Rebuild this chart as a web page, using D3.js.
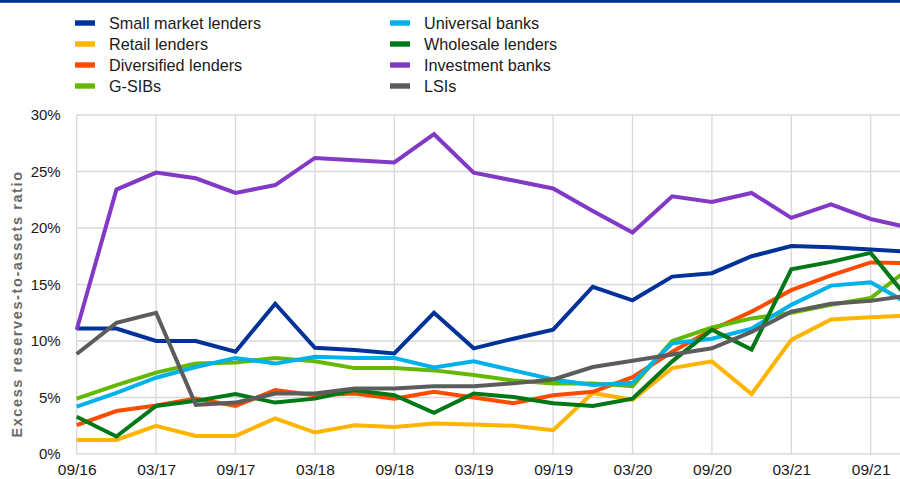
<!DOCTYPE html>
<html>
<head>
<meta charset="utf-8">
<script src="https://cdn.jsdelivr.net/npm/d3@7"></script>
<style>
  html, body { margin: 0; padding: 0; background: #fff; }
  svg { display: block; font-family: "Liberation Sans", Arial, sans-serif; }
</style>
</head>
<body>
<svg id="chart" width="900" height="479"></svg>
<script>
// ---- data ----
const quarters = ["09/16","12/16","03/17","06/17","09/17","12/17","03/18","06/18","09/18","12/18","03/19","06/19","09/19","12/19","03/20","06/20","09/20","12/20","03/21","06/21","09/21","12/21"];
const tickLabels = ["09/16","03/17","09/17","03/18","09/18","03/19","09/19","03/20","09/20","03/21","09/21"];
const yTicks = [0, 5, 10, 15, 20, 25, 30];

const smallMarketLenders = [11.1, 11.1, 10.0, 10.0, 9.05, 13.3, 9.4, 9.2, 8.9, 12.5, 9.35, 10.2, 11.0, 14.8, 13.6, 15.7, 16.0, 17.5, 18.4, 18.3, 18.1, 17.9];
const retailLenders      = [1.24, 1.24, 2.5, 1.6, 1.6, 3.15, 1.9, 2.55, 2.4, 2.7, 2.6, 2.5, 2.1, 5.4, 4.8, 7.6, 8.2, 5.3, 10.1, 11.9, 12.1, 12.25];
const diversifiedLenders = [2.55, 3.8, 4.3, 4.9, 4.25, 5.65, 5.2, 5.35, 4.9, 5.5, 5.0, 4.5, 5.2, 5.5, 6.8, 9.05, 11.0, 12.6, 14.5, 15.8, 16.95, 16.9];
const gSIBs              = [4.9, 6.1, 7.2, 8.0, 8.1, 8.5, 8.2, 7.6, 7.6, 7.4, 7.0, 6.5, 6.25, 6.25, 6.0, 10.0, 11.2, 12.0, 12.5, 13.2, 13.8, 16.5];
const universalBanks     = [4.2, 5.4, 6.75, 7.7, 8.5, 8.0, 8.6, 8.5, 8.5, 7.65, 8.2, 7.4, 6.6, 6.1, 6.3, 9.8, 10.2, 11.1, 13.2, 14.9, 15.2, 13.2];
const wholesaleLenders   = [3.3, 1.55, 4.25, 4.7, 5.3, 4.55, 4.9, 5.65, 5.2, 3.65, 5.35, 5.05, 4.5, 4.25, 4.9, 8.2, 11.0, 9.25, 16.35, 17.0, 17.8, 13.5];
const investmentBanks    = [11.0, 23.4, 24.9, 24.4, 23.1, 23.8, 26.2, 26.0, 25.8, 28.3, 24.9, 24.2, 23.5, 21.5, 19.6, 22.8, 22.3, 23.1, 20.9, 22.1, 20.8, 20.0];
const lsis               = [8.85, 11.6, 12.5, 4.35, 4.55, 5.35, 5.35, 5.8, 5.8, 6.0, 6.0, 6.25, 6.6, 7.7, 8.25, 8.8, 9.35, 10.8, 12.6, 13.3, 13.55, 14.05];

const seriesNames = ["Small market lenders","Retail lenders","Diversified lenders","G-SIBs","Universal banks","Wholesale lenders","Investment banks","LSIs"];
const seriesValues = [smallMarketLenders, retailLenders, diversifiedLenders, gSIBs, universalBanks, wholesaleLenders, investmentBanks, lsis];
const seriesColors = ["#003299","#ffb400","#ff4b00","#65b800","#00b1ea","#007816","#8139c6","#5c5c5c"];

(function () {
// ---- layout ----
const svg = d3.select("#chart");
const plotLeft = 76.7, plotRight = 76.7 + 21 * 39.7, plotTop = 115, plotBottom = 454;

const x = d3.scalePoint().domain(quarters).range([plotLeft, plotRight]);
const y = d3.scaleLinear().domain([0, 30]).range([plotBottom, plotTop]);

// top rule
svg.append("rect").attr("x", 0).attr("y", 0).attr("width", 900).attr("height", 2.8).attr("fill", "#003299");

// gridlines
const grid = svg.append("g");
grid.selectAll("line.h").data(yTicks).join("line").attr("class", "h")
  .attr("x1", plotLeft).attr("x2", 900)
  .attr("y1", d => y(d)).attr("y2", d => y(d))
  .attr("stroke", "#d9d9d9").attr("stroke-width", 1.3);
grid.selectAll("line.v").data(tickLabels).join("line").attr("class", "v")
  .attr("x1", d => x(d)).attr("x2", d => x(d))
  .attr("y1", plotTop).attr("y2", plotBottom)
  .attr("stroke", "#d9d9d9").attr("stroke-width", 1.3);

// y axis
const yAxis = d3.axisLeft(y).tickValues(yTicks).tickFormat(d => d + "%").tickSize(0).tickPadding(16);
const gy = svg.append("g").attr("transform", `translate(${plotLeft},0)`).call(yAxis);
gy.select(".domain").remove();
gy.selectAll("text").attr("font-size", "15px").attr("fill", "#1a1a1a")
  .attr("font-family", '"Liberation Sans", Arial, sans-serif');

// x axis
const xAxis = d3.axisBottom(x).tickValues(tickLabels).tickSize(0).tickPadding(10);
const gx = svg.append("g").attr("transform", `translate(0,${plotBottom})`).call(xAxis);
gx.select(".domain").remove();
gx.selectAll("text").attr("font-size", "15.5px").attr("fill", "#1a1a1a")
  .attr("font-family", '"Liberation Sans", Arial, sans-serif');

// y title
svg.append("text")
  .attr("transform", "translate(22,304) rotate(-90)")
  .attr("text-anchor", "middle")
  .attr("font-size", "14.5px").attr("font-weight", "bold").attr("fill", "#6a6a6a")
  .attr("letter-spacing", "1.6px")
  .text("Excess reserves-to-assets ratio");

// lines
const line = d3.line().x((d, i) => x(quarters[i])).y(d => y(d));
svg.append("g").selectAll("path").data(seriesValues).join("path")
  .attr("d", d => line(d))
  .attr("fill", "none")
  .attr("stroke", (d, i) => seriesColors[i])
  .attr("stroke-width", 4)
  .attr("stroke-linejoin", "miter");

// legend
const legend = svg.append("g");
seriesNames.forEach((name, i) => {
  const col = Math.floor(i / 4), row = i % 4;
  const sx = col === 0 ? 75 : 390;
  const ty = 23 + row * 21;
  legend.append("rect").attr("x", sx).attr("y", ty - 2.7).attr("width", 20).attr("height", 5.4)
    .attr("fill", seriesColors[i]);
  legend.append("text").attr("x", sx + 34).attr("y", ty + 5.6)
    .attr("font-size", "16.2px").attr("fill", "#1a1a1a")
    .text(name);
});
})();
</script>
</body>
</html>
